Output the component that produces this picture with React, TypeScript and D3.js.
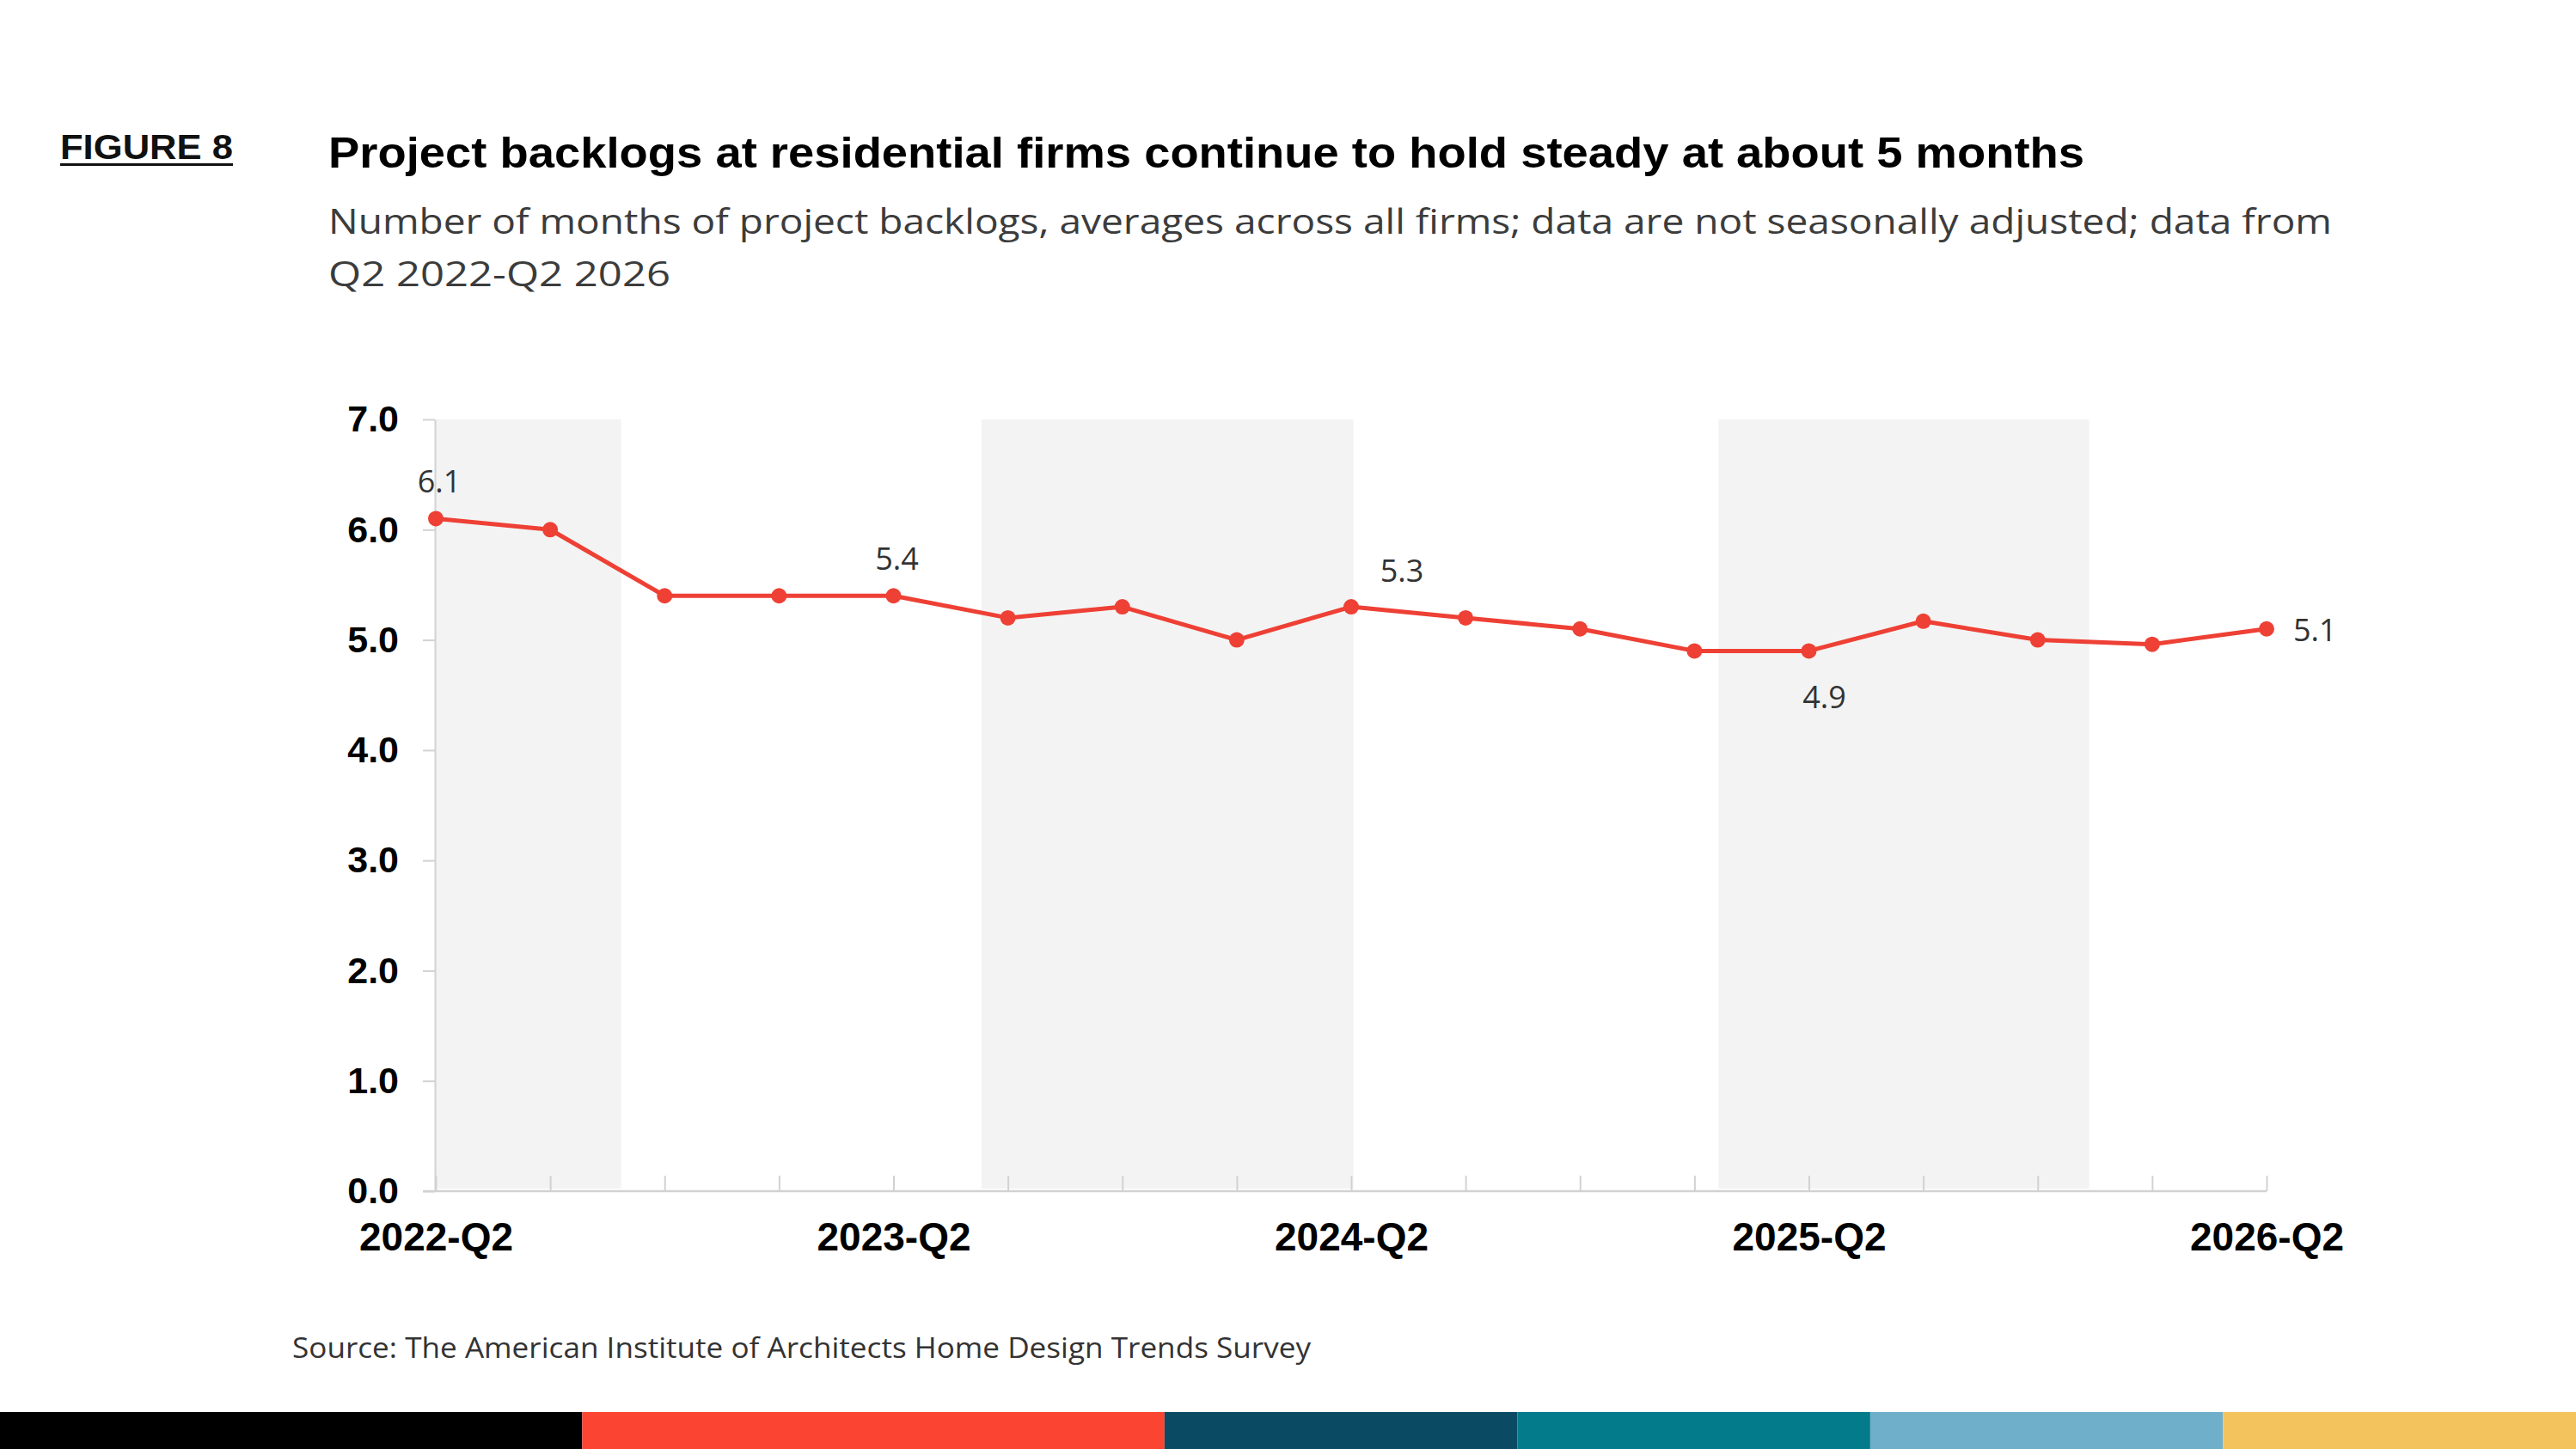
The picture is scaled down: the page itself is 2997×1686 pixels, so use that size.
import React, { useEffect, useRef } from 'react';
import * as d3 from 'd3';

const quarters = [
  '2022-Q2', '2022-Q3', '2022-Q4', '2023-Q1', '2023-Q2', '2023-Q3', '2023-Q4', '2024-Q1',
  '2024-Q2', '2024-Q3', '2024-Q4', '2025-Q1', '2025-Q2', '2025-Q3', '2025-Q4', '2026-Q1', '2026-Q2',
];
const backlogMonths = [6.1, 6.0, 5.4, 5.4, 5.4, 5.2, 5.3, 5.0, 5.3, 5.2, 5.1, 4.9, 4.9, 5.17, 5.0, 4.96, 5.1];
const yTicks = [0, 1, 2, 3, 4, 5, 6, 7];
const xTickLabels = ['2022-Q2', '2023-Q2', '2024-Q2', '2025-Q2', '2026-Q2'];
// grey shaded periods, in quarter-index units
const shadedBands: [number, number][] = [[0, 1.62], [4.77, 8.02], [11.21, 14.45]];
// which points get a value label and where it sits
const callouts = [
  { index: 0, place: 'above' },
  { index: 4, place: 'above' },
  { index: 8, place: 'aboveRight' },
  { index: 12, place: 'below' },
  { index: 16, place: 'right' },
];
const stripeColors = ['#000000', '#fc4433', '#0a4b63', '#047b8a', '#70afc9', '#f3c45e'];
const stripeWeights = [1.65, 1.65, 1, 1, 1, 1];

const W = 2997;
const H = 1686;
const RED = '#ee4035';
const AXIS_GREY = '#d2d2d2';
const SANS = "'Liberation Sans', Arial, sans-serif";
const LIGHT = "'Open Sans', 'Liberation Sans', sans-serif";

const placeOffsets: Record<string, { dx: number; dy: number; anchor: string }> = {
  above: { dx: 4, dy: -30, anchor: 'middle' },
  aboveRight: { dx: 59, dy: -29, anchor: 'middle' },
  below: { dx: 18, dy: 67, anchor: 'middle' },
  right: { dx: 31, dy: 14, anchor: 'start' },
};

const App: React.FC = () => {
  const xAxisRef = useRef<SVGGElement>(null);
  const yAxisRef = useRef<SVGGElement>(null);

  const x = d3.scaleLinear().domain([0, quarters.length - 1]).range([507, 2637]);
  const y = d3.scaleLinear().domain([0, 7]).range([1386, 488]);

  const line = d3.line<number>()
    .x((_, i) => x(i))
    .y((d) => y(d));

  // bottom colour stripe
  const stripeEnds = d3.cumsum(stripeWeights);
  const stripeX = d3.scaleLinear().domain([0, stripeEnds[stripeEnds.length - 1]]).range([0, W]);

  useEffect(() => {
    if (!xAxisRef.current || !yAxisRef.current) return;

    const xAxis = d3.axisBottom(x)
      .tickValues(d3.range(quarters.length))
      .tickSizeInner(-18)
      .tickSizeOuter(0)
      .tickPadding(36)
      .tickFormat((i) => (xTickLabels.includes(quarters[+i]) ? quarters[+i] : ''));

    const gx = d3.select(xAxisRef.current);
    gx.selectAll('*').remove();
    gx.call(xAxis);
    gx.select('.domain').remove();
    gx.selectAll('.tick line').attr('stroke', AXIS_GREY).attr('stroke-width', 2);
    gx.selectAll('.tick text')
      .attr('fill', '#000')
      .attr('font-family', SANS)
      .attr('font-weight', 700)
      .attr('font-size', 46);

    const yAxis = d3.axisLeft(y)
      .tickValues(yTicks)
      .tickSizeInner(14)
      .tickSizeOuter(0)
      .tickPadding(28)
      .tickFormat(d3.format('.1f'));

    const gy = d3.select(yAxisRef.current);
    gy.selectAll('*').remove();
    gy.call(yAxis);
    gy.select('.domain').attr('stroke', AXIS_GREY).attr('stroke-width', 2);
    gy.selectAll('.tick line').attr('stroke', AXIS_GREY).attr('stroke-width', 2);
    gy.selectAll('.tick text')
      .attr('fill', '#000')
      .attr('font-family', SANS)
      .attr('font-weight', 700)
      .attr('font-size', 43);
  }, []);

  return (
    <svg
      width={W}
      height={H}
      style={{ position: 'absolute', left: 0, top: 0, display: 'block', background: '#fff' }}
    >
      {/* Header */}
      <text x={70} y={185} fontFamily={SANS} fontWeight={700} fontSize={41} textLength={201}
        lengthAdjust="spacingAndGlyphs" fill="#111">FIGURE 8</text>
      <rect x={70} y={190} width={201} height={3} fill="#111" />
      <text x={382} y={195} fontFamily={SANS} fontWeight={700} fontSize={50} textLength={2043}
        lengthAdjust="spacingAndGlyphs" fill="#000">
        Project backlogs at residential firms continue to hold steady at about 5 months
      </text>
      <text x={382} y={272} fontFamily={LIGHT} fontSize={40} textLength={2331} lengthAdjust="spacingAndGlyphs" fill="#3c3c3c">
        Number of months of project backlogs, averages across all firms; data are not seasonally adjusted; data from
      </text>
      <text x={382} y={333} fontFamily={LIGHT} fontSize={40} textLength={398} lengthAdjust="spacingAndGlyphs" fill="#3c3c3c">
        Q2 2022-Q2 2026
      </text>

      {/* Shaded periods */}
      {shadedBands.map(([a, b], i) => (
        <rect key={i} x={x(a)} y={y(7)} width={x(b) - x(a)} height={y(0) - y(7) - 3} fill="#f3f3f3" />
      ))}

      {/* Axes */}
      <g ref={yAxisRef} transform={`translate(${x(0) - 1},0)`} />
      <g ref={xAxisRef} transform={`translate(0,${y(0)})`} />
      <line x1={x(0) - 15} x2={x(quarters.length - 1)} y1={y(0)} y2={y(0)} stroke={AXIS_GREY} strokeWidth={2.5} />

      {/* Series */}
      <path d={line(backlogMonths) ?? ''} fill="none" stroke={RED} strokeWidth={5} strokeLinejoin="round" />
      {backlogMonths.map((v, i) => (
        <circle key={quarters[i]} cx={x(i)} cy={y(v)} r={9} fill={RED} />
      ))}

      {/* Value callouts */}
      {callouts.map((c) => {
        const o = placeOffsets[c.place];
        return (
          <text key={c.index} x={x(c.index) + o.dx} y={y(backlogMonths[c.index]) + o.dy}
            textAnchor={o.anchor} fontFamily={LIGHT} fontSize={36} fill="#333">
            {d3.format('.1f')(backlogMonths[c.index])}
          </text>
        );
      })}

      {/* Source */}
      <text x={340} y={1580} fontFamily={LIGHT} fontSize={32} textLength={1185} lengthAdjust="spacingAndGlyphs" fill="#333">
        Source: The American Institute of Architects Home Design Trends Survey
      </text>

      {/* Bottom colour stripe */}
      {stripeColors.map((c, i) => (
        <rect key={c} x={stripeX(i === 0 ? 0 : stripeEnds[i - 1])} y={1643}
          width={stripeX(stripeEnds[i]) - stripeX(i === 0 ? 0 : stripeEnds[i - 1])} height={H - 1643} fill={c} />
      ))}
    </svg>
  );
};

export default App;
